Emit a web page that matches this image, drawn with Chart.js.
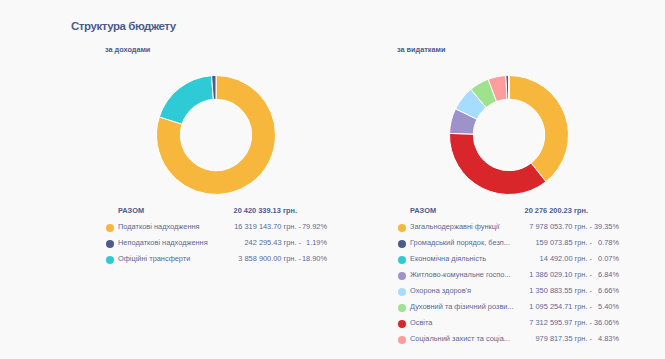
<!DOCTYPE html>
<html><head><meta charset="utf-8">
<script src="https://cdn.jsdelivr.net/npm/chart.js@4"></script>
<style>
html,body{margin:0;padding:0;width:665px;height:359px;background:#f9f9fa;overflow:hidden;font-family:"Liberation Sans",Arial,sans-serif;}
#title{position:absolute;left:71px;top:20px;font-size:11.5px;letter-spacing:-0.45px;line-height:12px;font-weight:bold;color:#4b5b8e;}
.sub{position:absolute;top:45px;font-size:7.3px;line-height:10px;font-weight:bold;color:#4b5b8e;}
.cv{position:absolute;width:120px;height:120px;}
.row{position:absolute;height:12px;font-size:7.4px;line-height:12px;color:#5a6896;}
.dot{position:absolute;width:8px;height:8px;border-radius:50%;top:2.5px;}
.lbl{position:absolute;white-space:pre;}
.amt{position:absolute;text-align:right;white-space:pre;}
.pct{position:absolute;text-align:right;white-space:pre;}
.tot{font-weight:bold;color:#4b5b8e;}
</style></head><body>
<div id="title">Структура бюджету</div>
<div class="sub" style="left:105px">за доходами</div>
<div class="sub" style="left:397px">за видатками</div>
<canvas id="c1" class="cv" style="left:156px;top:75px"></canvas>
<canvas id="c2" class="cv" style="left:449px;top:75px"></canvas>
<div id="leg"></div>
<script>
// Income (за доходами)
const incomeLabels = ["Податкові надходження","Неподаткові надходження","Офіційні трансферти"];
const incomeAmounts = ["16 319 143.70","242 295.43","3 858 900.00"];
const incomePercents = [79.92, 1.19, 18.90];
const incomeColors = ["#f6b73c","#4c5b8e","#2ecad6"];
const incomeDrawOrder = [0, 2, 1];
const incomeTotal = "20 420 339.13 грн.";

// Expenses (за видатками)
const expenseLabels = ["Загальнодержавні функції","Громадський порядок, безпека та судова влада","Економічна діяльність","Житлово-комунальне господарство","Охорона здоров'я","Духовний та фізичний розвиток","Освіта","Соціальний захист та соціальне забезпечення"];
const expenseAmounts = ["7 978 053.70","159 073.85","14 492.00","1 386 029.10","1 350 883.55","1 095 254.71","7 312 595.97","979 817.35"];
const expensePercents = [39.35, 0.78, 0.07, 6.84, 6.66, 5.40, 36.06, 4.83];
const expenseColors = ["#f6b73c","#4c5b8e","#2ecad6","#9d92c9","#a6ddff","#9ee28c","#d9262b","#ff9c9c"];
const expenseDrawOrder = [0, 6, 3, 4, 5, 7, 1, 2];
const expenseTotal = "20 276 200.23 грн.";

function donut(id, order, vals, cols){
  new Chart(document.getElementById(id), {
    type:'doughnut',
    data:{labels:order.map(i=>i), datasets:[{data:order.map(i=>vals[i]), backgroundColor:order.map(i=>cols[i]), borderColor:'#ffffff', borderWidth:1}]},
    options:{responsive:false, animation:false, cutout:'60%', plugins:{legend:{display:false}, tooltip:{enabled:false}}, layout:{padding:0}}
  });
}
donut('c1', incomeDrawOrder, incomePercents, incomeColors);
donut('c2', expenseDrawOrder, expensePercents, expenseColors);

const mctx = document.createElement('canvas').getContext('2d');
mctx.font = '7.4px "Liberation Sans", Arial, sans-serif';
function fit(s, maxW){
  if (mctx.measureText(s).width <= maxW) return s;
  let t = s;
  while (t.length > 1 && mctx.measureText(t + '...').width > maxW) t = t.slice(0, -1);
  return t.replace(/\s+$/,'') + '...';
}

function legend(x0, labels, amts, pcts, cols, total, totEnd, amtEnd, pctEnd){
  const leg = document.getElementById('leg');
  let y = 205;
  let h = `<div class="row tot" style="top:${y}px;left:0;width:665px"><span style="position:absolute;left:${x0+8}px">РАЗОМ</span><span class="amt" style="right:${665-totEnd}px">${total}</span></div>`;
  labels.forEach((l,i)=>{
    y += 16;
    h += `<div class="row" style="top:${y}px;left:0;width:665px">
      <div class="dot" style="left:${x0-4}px;background:${cols[i]}"></div>
      <div class="lbl" style="left:${x0+8}px">${fit(l,104)}</div>
      <div class="amt" style="right:${665-amtEnd}px">${amts[i]} грн. -</div>
      <div class="pct" style="right:${665-pctEnd}px">${pcts[i].toFixed(2)}%</div></div>`;
  });
  leg.insertAdjacentHTML('beforeend', h);
}
legend(110, incomeLabels, incomeAmounts, incomePercents, incomeColors, incomeTotal, 297, 301, 327);
legend(402, expenseLabels, expenseAmounts, expensePercents, expenseColors, expenseTotal, 588, 592, 619);
</script>
</body></html>
